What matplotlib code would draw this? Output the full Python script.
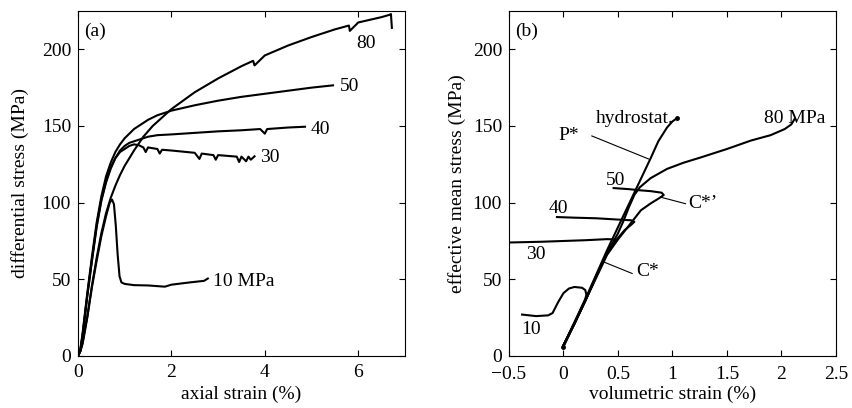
#!/usr/bin/env python3

import matplotlib
matplotlib.use('Agg')
import matplotlib.pyplot as plt


# ---- panel (a): axial strain (%) vs differential stress (MPa) ----
ax_10 = [0, 0.05, 0.1, 0.2, 0.3, 0.4, 0.5, 0.6, 0.68, 0.73, 0.77, 0.81, 0.85, 0.89, 0.93, 1.0, 1.2, 1.5, 1.86, 2.0, 2.4, 2.7, 2.78]
sd_10 = [0, 3, 8, 25, 45, 62, 78, 91, 100, 102, 99, 85, 66, 52, 48, 47, 46.2, 46, 45.2, 46.5, 48, 49, 50.5]

ax_30 = [0, 0.05, 0.1, 0.15, 0.2, 0.3, 0.4, 0.5, 0.6, 0.7, 0.8, 0.9, 1.0, 1.1, 1.2, 1.3, 1.4, 1.45, 1.5, 1.7, 1.75, 1.8, 2.0, 2.5, 2.6, 2.65, 2.9, 2.95, 3.0, 3.4, 3.45, 3.5, 3.6, 3.65, 3.7, 3.78]
sd_30 = [0, 4, 14, 27, 40, 63, 85, 102, 114, 123, 129, 133, 135, 137, 138, 137.5, 136, 133, 136, 135, 132, 134.5, 134, 132.5, 128.5, 132, 131, 128, 131, 130, 126.5, 130, 127, 130, 128, 130.2]

ax_40 = [0, 0.05, 0.1, 0.15, 0.2, 0.3, 0.4, 0.5, 0.6, 0.7, 0.8, 0.9, 1.0, 1.1, 1.2, 1.3, 1.4, 1.5, 1.6, 1.7, 2.0, 2.5, 3.0, 3.5, 3.9, 4.0, 4.05, 4.5, 4.86]
sd_40 = [0, 3, 13, 26, 39, 62, 84, 101, 113, 122, 129, 134, 137, 139, 140, 141, 142, 143, 143.5, 144, 144.5, 145.5, 146.5, 147.2, 148, 145, 148, 149, 149.5]

ax_50 = [0, 0.05, 0.1, 0.15, 0.2, 0.3, 0.4, 0.5, 0.6, 0.7, 0.8, 0.9, 1.0, 1.2, 1.5, 1.7, 2.0, 2.5, 3.0, 3.5, 4.0, 4.5, 5.0, 5.46]
sd_50 = [0, 4, 15, 28, 41, 65, 87, 104, 117, 126, 133, 138, 142, 148, 154, 157, 160, 163.5, 166.5, 169, 171, 173, 175, 176.5]

ax_80 = [0, 0.05, 0.1, 0.2, 0.3, 0.4, 0.5, 0.6, 0.7, 0.8, 0.9, 1.0, 1.1, 1.2, 1.4, 1.6, 2.0, 2.5, 3.0, 3.5, 3.75, 3.78, 4.0, 4.5, 5.0, 5.5, 5.8, 5.82, 6.0, 6.5, 6.67, 6.7, 6.72]
sd_80 = [0, 3, 9, 26, 46, 64, 80, 93, 103, 111, 118, 124, 129, 134, 143, 150, 161, 172, 181, 189, 192.5, 189.5, 196, 202.5, 208, 213, 215.5, 212, 217.5, 221, 222.5, 223, 214]

# ---- panel (b): volumetric strain (%) vs effective mean stress (MPa) ----
ev_hyd = [0.0, 0.1, 0.2, 0.3, 0.4, 0.5, 0.6, 0.7, 0.8, 0.87, 0.95, 1.0, 1.04]
pm_hyd = [6, 21, 37, 53, 69, 84, 99, 114, 129, 140, 149, 153, 155]

ev_10 = [0.0, 0.1, 0.2, 0.21, 0.2, 0.17, 0.1, 0.05, 0.0, -0.05, -0.1, -0.14, -0.25, -0.38]
pm_10 = [7, 22, 37, 40, 43, 44.5, 45, 44, 41, 35, 28, 26.5, 26, 27]

ev_30 = [0.0, 0.1, 0.2, 0.3, 0.4, 0.45, 0.47, 0.4, 0.2, 0.0, -0.2, -0.5]
pm_30 = [7, 21, 36, 52, 67, 73, 76, 76.2, 75.5, 75, 74.5, 74]

ev_40 = [0.0, 0.1, 0.2, 0.3, 0.42, 0.5, 0.56, 0.62, 0.65, 0.62, 0.49, 0.3, 0.1, -0.06]
pm_40 = [7, 21, 36, 52, 70, 77, 82, 85.5, 87.5, 88.5, 89, 89.8, 90.2, 90.6]

ev_50 = [0.0, 0.1, 0.2, 0.3, 0.4, 0.5, 0.6, 0.71, 0.8, 0.88, 0.92, 0.9, 0.8, 0.71, 0.6, 0.46]
pm_50 = [7, 21, 36, 51, 66, 76, 85, 95, 99.5, 103, 105, 106.5, 107.5, 108, 108.8, 109.5]

ev_80 = [0.0, 0.1, 0.2, 0.3, 0.4, 0.5, 0.55, 0.6, 0.65, 0.7, 0.8, 0.95, 1.1, 1.26, 1.5, 1.72, 1.9, 2.03, 2.09, 2.12]
pm_80 = [7, 21, 36, 52, 67, 80, 88, 97, 105, 110, 116, 122, 126, 129.5, 135, 140.5, 144, 148, 151, 154.5]


def style_axes(ax, xpad=6):
  ax.tick_params(direction='in', top=True, right=True, length=4, width=0.8, labelsize=14)
  ax.tick_params(axis='x', pad=xpad)
  ax.tick_params(axis='y', pad=5)
  for sp in ax.spines.values():
    sp.set_linewidth(0.8)


def main():
  plt.rcParams['font.family'] = ['Liberation Serif', 'DejaVu Serif']

  fig = plt.figure(figsize=(8.52, 4.08), dpi=100)
  ax1 = fig.add_axes([0.0915, 0.1275, 0.3838, 0.8456])
  ax2 = fig.add_axes([0.5974, 0.1275, 0.3838, 0.8456])

  lw = 1.5
  for xs, ys in [(ax_10, sd_10), (ax_30, sd_30), (ax_40, sd_40), (ax_50, sd_50), (ax_80, sd_80)]:
    ax1.plot(xs, ys, color='k', lw=lw)

  fs = 14
  ax1.set_xlim(0, 7)
  ax1.set_ylim(0, 225)
  ax1.set_xticks([0, 2, 4, 6])
  ax1.set_yticks([0, 50, 100, 150, 200])
  ax1.set_xlabel('axial strain (%)', fontsize=fs, labelpad=3)
  ax1.set_ylabel('differential stress (MPa)', fontsize=fs, labelpad=9)
  style_axes(ax1)

  ax1.text(0.02, 0.965, '(a)', transform=ax1.transAxes, fontsize=fs, va='top', ha='left')
  ax1.text(6.17, 203.5, '80', fontsize=fs, ha='center', va='center')
  ax1.text(5.81, 175.5, '50', fontsize=fs, ha='center', va='center')
  ax1.text(5.2, 148, '40', fontsize=fs, ha='center', va='center')
  ax1.text(4.1, 129.5, '30', fontsize=fs, ha='center', va='center')
  ax1.text(2.89, 48.5, '10 MPa', fontsize=fs, ha='left', va='center')

  for xs, ys in [(ev_hyd, pm_hyd), (ev_10, pm_10), (ev_30, pm_30), (ev_40, pm_40), (ev_50, pm_50), (ev_80, pm_80)]:
    ax2.plot(xs, ys, color='k', lw=lw)
  ax2.plot([ev_hyd[0], ev_hyd[-1]], [pm_hyd[0], pm_hyd[-1]], 'k.', ms=5)

  ax2.set_xlim(-0.5, 2.5)
  ax2.set_ylim(0, 225)
  ax2.set_xticks([-0.5, 0, 0.5, 1, 1.5, 2, 2.5])
  ax2.set_xticklabels(['\u22120.5', '0', '0.5', '1', '1.5', '2', '2.5'])
  ax2.set_yticks([0, 50, 100, 150, 200])
  ax2.set_xlabel('volumetric strain (%)', fontsize=fs, labelpad=2)
  ax2.set_ylabel('effective mean stress (MPa)', fontsize=fs, labelpad=5)
  style_axes(ax2, xpad=7.5)

  ax2.text(0.02, 0.965, '(b)', transform=ax2.transAxes, fontsize=fs, va='top', ha='left')
  ax2.text(0.65, 155, 'hydrostat.', fontsize=fs, ha='center', va='center')
  ax2.text(2.12, 155, '80 MPa', fontsize=fs, ha='center', va='center')
  ax2.text(0.05, 144, 'P*', fontsize=fs, ha='center', va='center')
  ax2.text(0.48, 114.5, '50', fontsize=fs, ha='center', va='center')
  ax2.text(1.28, 99.5, "C*\u2019", fontsize=fs, ha='center', va='center')
  ax2.text(-0.05, 96, '40', fontsize=fs, ha='center', va='center')
  ax2.text(-0.25, 66.5, '30', fontsize=fs, ha='center', va='center')
  ax2.text(0.77, 55, 'C*', fontsize=fs, ha='center', va='center')
  ax2.text(-0.3, 17, '10', fontsize=fs, ha='center', va='center')

  # leader lines
  ax2.plot([0.26, 0.78], [143.5, 128.5], color='k', lw=0.8)
  ax2.plot([0.89, 1.12], [103.6, 99.3], color='k', lw=0.8)
  ax2.plot([0.37, 0.63], [61.3, 53.8], color='k', lw=0.8)

  fig.savefig('out.png', dpi=100)


if __name__ == '__main__':
  main()
